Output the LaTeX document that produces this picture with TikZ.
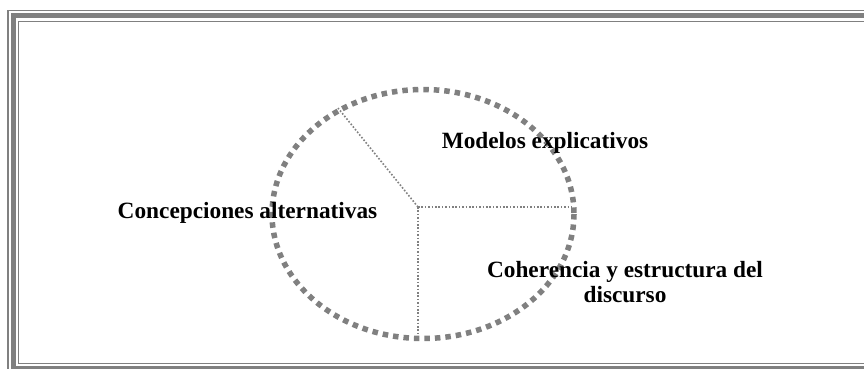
\documentclass[tikz,border=0pt]{standalone}
\usepackage{fontspec}
\setmainfont{Liberation Serif}
\begin{document}
\begin{tikzpicture}[x=1pt,y=-1pt,
  framecol/.style={draw=black!50},
  ring/.style={draw=black!50, line width=5.5pt, dash pattern=on 5.5pt off 5pt},
  divider/.style={draw=black!50, line width=1.6pt, dash pattern=on 1.6pt off 1.8pt},
  label/.style={font=\bfseries\fontsize{23.3}{25}\selectfont, align=center, inner sep=0pt}]
  \useasboundingbox (0,0) rectangle (864,368);
  \clip (0,0) rectangle (864,368);
  \fill[white] (0,0) rectangle (864,368);
  % triple-line frame
  \draw[framecol, line width=1.2pt] (8,10.8) rectangle (880,378);
  \draw[framecol, line width=5pt] (13,15.5) rectangle (875,368.5);
  \draw[framecol, line width=1.6pt] (18.3,21.5) rectangle (870,363.5);
  % dashed ring
  \draw[ring] (423,214) ellipse [x radius=151, y radius=124.5];
  % sectors
  \coordinate (hub) at (418,207);
  \coordinate (upleft) at (338,108);
  \coordinate (right) at (572,207);
  \coordinate (down) at (418,337);
  \draw[divider] (hub) -- (upleft);
  \draw[divider] (hub) -- (right);
  \draw[divider] (hub) -- (down);
  % labels
  \node[label] (modelos) at (545,143) {Modelos explicativos};
  \node[label] (concep) at (247.5,213) {Concepciones alternativas};
  \node[label] (coher) at (625,282) {Coherencia y estructura del\\discurso};
\end{tikzpicture}
\end{document}
